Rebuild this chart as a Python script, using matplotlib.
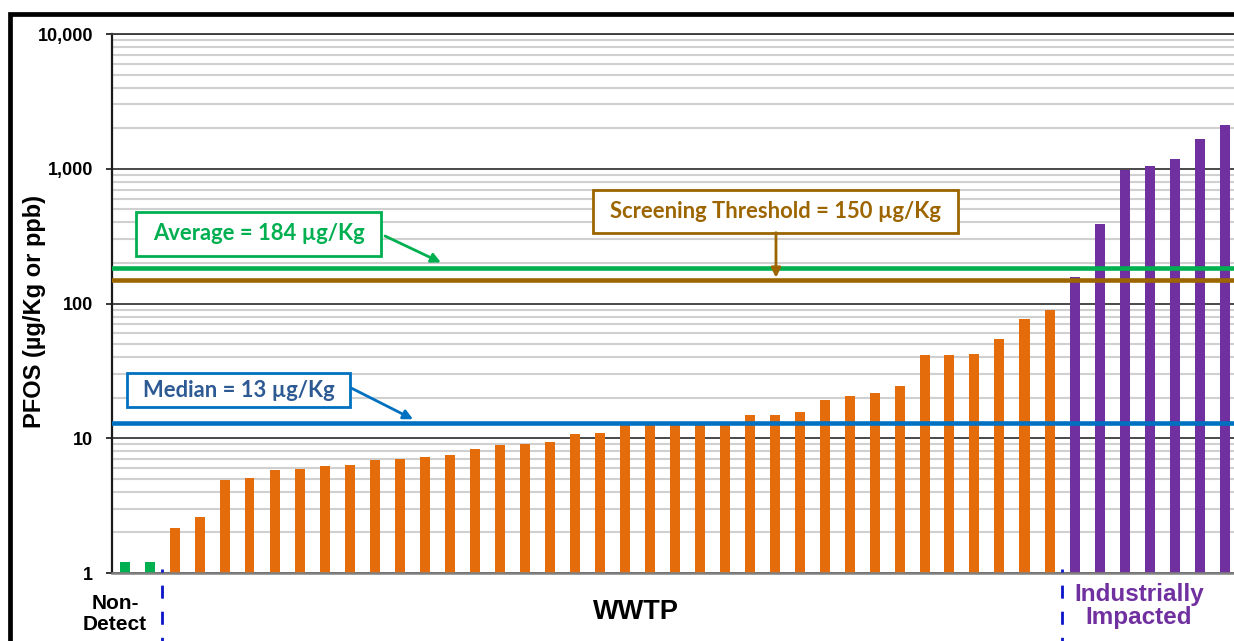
import matplotlib
matplotlib.use("Agg")
import matplotlib.pyplot as plt
import matplotlib.transforms as mtransforms
from matplotlib.patches import Rectangle
from matplotlib.ticker import LogLocator, NullFormatter

# PFOS concentration per biosolids sample (µg/Kg), sorted within each group
non_detect = [1.2, 1.2]
wwtp = [2.15, 2.62, 4.9, 5.05, 5.8, 5.9, 6.2, 6.35, 6.9, 7.05,
        7.2, 7.55, 8.3, 8.9, 9.1, 9.35, 10.75, 11.0, 12.6, 12.8,
        13.0, 13.0, 13.1, 14.9, 14.95, 15.6, 19.2, 20.7, 21.6, 24.5,
        41.5, 41.5, 42.4, 54.5, 76.3, 89.5]
industrial = [158, 386, 977, 1049, 1172, 1660, 2125]

average_value = 184
threshold_value = 150
median_value = 13

y_ticks = [1, 10, 100, 1000, 10000]
y_tick_labels = ["1", "10", "100", "1,000", "10,000"]

GREEN = "#00B050"
ORANGE = "#E46C0A"
PURPLE = "#7030A0"
BROWN = "#9C6500"
BLUE = "#0070C0"
MEDIAN_TEXT = "#2E5A94"
DIVIDER = "#0A14C8"

plt.rcParams["lines.scale_dashes"] = False
ARIAL = ["Liberation Sans", "DejaVu Sans"]
BOXFONT = ["Lato", "DejaVu Sans"]

W, H = 1234, 641
fig = plt.figure(figsize=(W / 100, H / 100), dpi=100)
fig.patch.set_facecolor("white")
ax = fig.add_axes([112 / W, (H - 573) / H, 1125 / W, 539 / H])

ax.set_yscale("log")
n_total = len(non_detect) + len(wwtp) + len(industrial)
ax.set_xlim(-0.5, n_total - 0.5)
ax.set_ylim(y_ticks[0], y_ticks[-1])

# bars for the three groups
x_nd = list(range(len(non_detect)))
x_ww = list(range(len(non_detect), len(non_detect) + len(wwtp)))
x_in = list(range(len(non_detect) + len(wwtp), n_total))
bw = 0.4
ax.bar(x_nd, non_detect, width=bw, color=GREEN, zorder=2)
ax.bar(x_ww, wwtp, width=bw, color=ORANGE, zorder=2)
ax.bar(x_in, industrial, width=bw, color=PURPLE, zorder=2)

# reference levels
ax.axhline(average_value, color=GREEN, lw=3.3, zorder=3)
ax.axhline(threshold_value, color=BROWN, lw=3.3, zorder=3)
ax.axhline(median_value, color=BLUE, lw=3.3, zorder=3)

# axes styling
ax.set_yticks(y_ticks)
ax.set_yticklabels(y_tick_labels, fontsize=13, fontweight="bold", family=ARIAL)
ax.yaxis.set_minor_locator(LogLocator(base=10, subs=range(2, 10)))
ax.yaxis.set_minor_formatter(NullFormatter())
ax.tick_params(axis="y", which="major", length=4.5, width=1.3, pad=9, color="#262626")
ax.tick_params(axis="y", which="minor", length=0)
ax.set_xticks([])
ax.set_axisbelow(True)
ax.grid(which="minor", axis="y", color="#D0D0D0", lw=1.5)
ax.grid(which="major", axis="y", color="#3A3A3A", lw=1.3)
ax.spines["left"].set_color("#1A1A1A")
ax.spines["left"].set_linewidth(1.6)
ax.spines["bottom"].set_color("#808080")
ax.spines["bottom"].set_linewidth(1.8)
ax.spines["right"].set_visible(False)
ax.spines["top"].set_color("#3A3A3A")
ax.spines["top"].set_linewidth(1.3)

ax.text(-0.0689, 0.4848, "PFOS (µg/Kg or ppb)", transform=ax.transAxes,
        rotation=90, ha="center", va="center", fontsize=17,
        fontweight="bold", family=ARIAL)

# group dividers below the baseline
blend = mtransforms.blended_transform_factory(ax.transData, ax.transAxes)
for xd in (len(non_detect) - 0.5, len(non_detect) + len(wwtp) - 0.5):
    ax.plot([xd, xd], [0.0074, -0.2], transform=blend, color=DIVIDER, lw=2.0,
            ls=(7.2, (9.4, 9.4)), clip_on=False, zorder=5)

# group labels
ax.text(0.0027, -0.0761, "Non-\nDetect", transform=ax.transAxes, ha="center",
        va="center", fontsize=15, fontweight="bold", family=ARIAL,
        linespacing=1.1, multialignment="center")
ax.text(0.4658, -0.0724, "WWTP", transform=ax.transAxes, ha="center",
        va="center", fontsize=19.5, fontweight="bold", family=ARIAL)
ax.text(0.9129, -0.0612, "Industrially\nImpacted", transform=ax.transAxes,
        ha="center", va="center", fontsize=17.5, fontweight="bold", family=ARIAL,
        color=PURPLE, linespacing=1.05, multialignment="center")


def callout(x0, y0, x1, y1, text, edge, tcolor, tail, tip, size):
    ax.add_patch(Rectangle((x0, y0), x1 - x0, y1 - y0, transform=ax.transAxes,
                           facecolor="white", edgecolor=edge, lw=2.0, zorder=6,
                           clip_on=False))
    ax.text((x0 + x1) / 2, (y0 + y1) / 2, text, transform=ax.transAxes,
            ha="center", va="center", fontsize=size, fontweight="bold",
            family=BOXFONT, color=tcolor, zorder=7)
    ax.annotate("", xy=tip, xytext=tail, xycoords="axes fraction",
                arrowprops=dict(arrowstyle="-|>", color=edge, lw=2.0,
                                shrinkA=0, shrinkB=0, mutation_scale=14),
                zorder=7)


callout(0.0213, 0.5881, 0.2391, 0.6703, f"Average = {average_value} µg/Kg",
        GREEN, GREEN, (0.2427, 0.6252), (0.2924, 0.5761), 15.8)
callout(0.4278, 0.6314, 0.7517, 0.7106,
        f"Screening Threshold = {threshold_value} µg/Kg",
        BROWN, BROWN, (0.5902, 0.6314), (0.5902, 0.5479), 15.8)
callout(0.0131, 0.3074, 0.2116, 0.3705, f"Median = {median_value} µg/Kg",
        BLUE, MEDIAN_TEXT, (0.2131, 0.3427), (0.2676, 0.2852), 15.8)

# outer frame
fig.add_artist(Rectangle((9.7 / W, -0.5), 2.0, 1.5 - 13.9 / H,
                         transform=fig.transFigure, fill=False,
                         edgecolor="black", lw=3.4))

fig.savefig("out.png", dpi=100)
